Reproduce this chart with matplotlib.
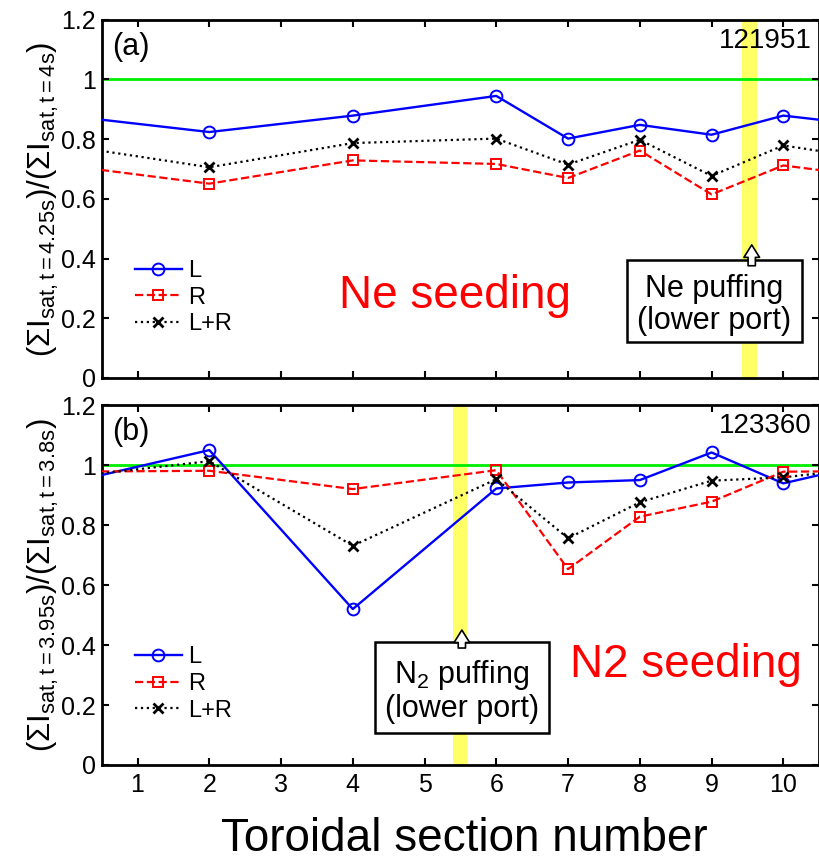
import numpy as np
import matplotlib
matplotlib.use('Agg')
import matplotlib.pyplot as plt
from matplotlib.patches import Rectangle

plt.rcParams['font.family'] = ['Liberation Sans', 'DejaVu Sans']
plt.rcParams['mathtext.fontset'] = 'custom'
plt.rcParams['mathtext.rm'] = 'Liberation Sans'
plt.rcParams['mathtext.it'] = 'Liberation Sans:italic'

# toroidal sections that have probes
sections = np.array([2, 4, 6, 7, 8, 9, 10])

# (a) shot 121951, Ne seeding
a_L = [0.824, 0.879, 0.945, 0.802, 0.848, 0.815, 0.879]
a_R = [0.651, 0.729, 0.717, 0.670, 0.762, 0.615, 0.712]
a_LR = [0.706, 0.787, 0.802, 0.715, 0.798, 0.677, 0.779]

# (b) shot 123360, N2 seeding
b_L = [1.050, 0.520, 0.922, 0.942, 0.950, 1.042, 0.939]
b_R = [0.981, 0.920, 0.983, 0.653, 0.828, 0.878, 0.978]
b_LR = [1.013, 0.731, 0.953, 0.756, 0.876, 0.948, 0.959]

panels = [
    dict(tag='(a)', shot='121951', L=a_L, R=a_R, LR=a_LR, puff=9.53,
         gas='Ne puffing', seed='Ne seeding', box=(7.82, 10.26, 0.121, 0.396),
         arrow_top=0.446, seed_xy=(5.42, 0.235),
         ylabel=r'$(\Sigma\mathrm{I}_{\mathrm{sat,t=4.25s}})/(\Sigma\mathrm{I}_{\mathrm{sat,t=4s}})$'),
    dict(tag='(b)', shot='123360', L=b_L, R=b_R, LR=b_LR, puff=5.49,
         gas=r'N$_2$ puffing', seed='N2 seeding', box=(4.31, 6.73, 0.107, 0.41),
         arrow_top=0.45, seed_xy=(8.64, 0.293),
         ylabel=r'$(\Sigma\mathrm{I}_{\mathrm{sat,t=3.95s}})/(\Sigma\mathrm{I}_{\mathrm{sat,t=3.8s}})$'),
]


def wrap(vals):
    # machine is toroidal: section 10 sits before 1, section 2 after 10
    v = np.asarray(vals)
    x = np.concatenate([[sections[-1] - 10], sections, [sections[0] + 10]])
    y = np.concatenate([[v[-1]], v, [v[0]]])
    return x, y


fig = plt.figure(figsize=(8.2, 8.61), dpi=100)
positions = [[0.124, 0.561, 0.875, 0.416], [0.124, 0.1115, 0.875, 0.418]]

for p, pos in zip(panels, positions):
    ax = fig.add_axes(pos)
    ax.axvspan(p['puff'] - 0.1, p['puff'] + 0.1, color='#ffff66', lw=0, zorder=0)
    ax.axhline(1, color='#00ee00', lw=2, zorder=1)

    x, y = wrap(p['L'])
    ax.plot(x, y, '-o', color='blue', lw=1.7, ms=8.5, mfc='none', mew=1.4, label='L', zorder=3)
    x, y = wrap(p['R'])
    ax.plot(x, y, '--s', color='red', lw=1.6, ms=7, mfc='none', mew=1.4, label='R', zorder=3)
    x, y = wrap(p['LR'])
    ax.plot(x, y, ':x', color='black', lw=1.6, ms=6.5, mew=2, label='L+R', zorder=3)

    x0, x1, y0, y1 = p['box']
    ax.add_patch(Rectangle((x0, y0), x1 - x0, y1 - y0, fc='white', ec='black', lw=1.8, zorder=5))
    xc = (x0 + x1) / 2
    ax.text(xc, y0 + (y1 - y0) * 0.64, p['gas'], ha='center', va='center', fontsize=22, zorder=6)
    ax.text(xc, y0 + (y1 - y0) * 0.26, '(lower port)', ha='center', va='center', fontsize=22, zorder=6)
    ax.annotate('', xy=(p['puff'] + 0.03, p['arrow_top']), xytext=(p['puff'] + 0.03, y1 - 0.02),
                arrowprops=dict(arrowstyle='simple,head_width=0.75,head_length=0.6,tail_width=0.35',
                                mutation_scale=15, fc='white', ec='black', lw=1.2,
                                shrinkA=0, shrinkB=0), zorder=6)

    ax.text(p['seed_xy'][0], p['seed_xy'][1], p['seed'], color='red', fontsize=33,
            ha='center', va='baseline', zorder=6)
    ax.text(0.014, 0.966, p['tag'], transform=ax.transAxes, fontsize=22, va='top', ha='left')
    ax.text(0.989, 0.978, p['shot'], transform=ax.transAxes, fontsize=20, va='top', ha='right', zorder=6)

    ax.legend(loc='upper left', bbox_to_anchor=(0.046, 0.33), frameon=False, fontsize=17,
              borderpad=0, borderaxespad=0, handlelength=2.0, handletextpad=0.25, labelspacing=0.2)

    ax.set_xlim(0.5, 10.5)
    ax.set_ylim(0, 1.2)
    ax.set_xticks(range(1, 11))
    ax.set_yticks([0, 0.2, 0.4, 0.6, 0.8, 1, 1.2])
    ax.set_yticklabels(['0', '0.2', '0.4', '0.6', '0.8', '1', '1.2'])
    ax.tick_params(direction='in', top=True, right=True, length=5, width=1.5, labelsize=18)
    ax.tick_params(axis='x', pad=6)
    ax.tick_params(axis='y', pad=4)
    for s in ax.spines.values():
        s.set_linewidth(2)
    ax.set_ylabel(p['ylabel'], fontsize=22.5, labelpad=0)
    if p['tag'] == '(a)':
        ax.set_xticklabels([])

fig.text(0.566, 0.012, 'Toroidal section number', fontsize=33, ha='center', va='baseline')

fig.savefig('out.png', dpi=100)
